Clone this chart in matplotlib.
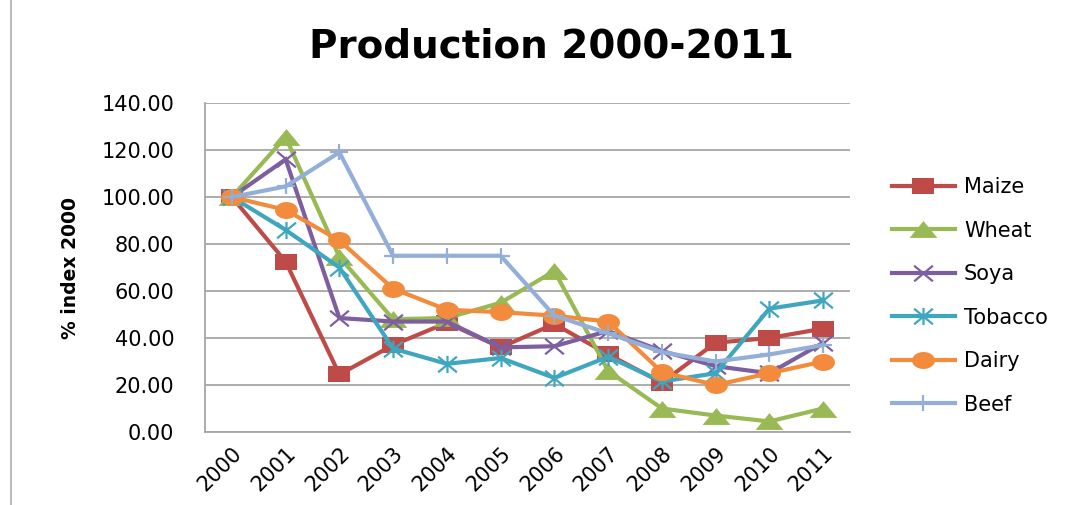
import numpy as np
import matplotlib.pyplot as plt
from matplotlib.path import Path
from matplotlib.lines import Line2D

# Dados
years = ['2000', '2001', '2002', '2003', '2004', '2005',
         '2006', '2007', '2008', '2009', '2010', '2011']
maize = [100, 72.5, 24.5, 37, 46.5, 36, 46, 33, 21, 38, 40, 44]
wheat = [100, 125.5, 74.5, 48, 48.5, 55, 68.5, 26, 10, 7, 4.5, 10]
soya = [100, 116, 48.5, 47, 47, 36, 36.5, 43, 34.5, 28, 25, 38]
tobacco = [100, 86, 70, 35.5, 29, 31.5, 23, 32, 21.5, 25, 52.5, 56]
dairy = [100, 94.5, 81.5, 61, 52, 51, 49.5, 47, 25.5, 20, 25, 30]
beef = [100, 104.5, 119, 75, 75, 75, 49.5, 42, 34, 30, 33, 37]

names = ['Maize', 'Wheat', 'Soya', 'Tobacco', 'Dairy', 'Beef']
series = [maize, wheat, soya, tobacco, dairy, beef]
colors = ['#BE4B48', '#98B954', '#7D5FA0', '#3FA6C0', '#F38B3C', '#93AFD8']

# marcadores achatados (a imagem original é esticada na horizontal)
M, L = Path.MOVETO, Path.LINETO
sq = Path([(-1.35, -1), (1.35, -1), (1.35, 1), (-1.35, 1), (-1.35, -1)])
tri = Path([(-1.65, -1), (1.65, -1), (0, 1), (-1.65, -1)])
t = np.linspace(0, 2 * np.pi, 40)
circ = Path(np.column_stack([1.35 * np.cos(t), np.sin(t)]))
xm = Path([(-1.2, -1), (1.2, 1), (-1.2, 1), (1.2, -1)], [M, L, M, L])
star = Path([(-1.2, -1), (1.2, 1), (-1.2, 1), (1.2, -1), (0, -1.1), (0, 1.1)],
            [M, L, M, L, M, L])
plus = Path([(-1.2, 0), (1.2, 0), (0, -1.1), (0, 1.1)], [M, L, M, L])

markers = [sq, tri, xm, star, circ, plus]
msizes = [16.5, 20, 13.5, 13.5, 16.5, 13]
filled = [True, True, False, False, True, False]

fig = plt.figure(figsize=(10.65, 5.05), dpi=100)
ax = fig.add_axes([205 / 1065, 1 - 432 / 505, 645 / 1065, 329 / 505])

x = np.arange(len(years))
for i in range(len(names)):
    if filled[i]:
        ax.plot(x, series[i], color=colors[i], lw=3, marker=markers[i],
                ms=msizes[i], mfc=colors[i], mec=colors[i], mew=0,
                label=names[i], solid_joinstyle='miter')
    else:
        ax.plot(x, series[i], color=colors[i], lw=3, marker=markers[i],
                ms=msizes[i], mfc='none', mec=colors[i], mew=1.6,
                label=names[i], solid_joinstyle='miter')

ax.set_xlim(-0.5, 11.5)
ax.set_ylim(0, 140)
ax.set_yticks(np.arange(0, 141, 20))
ax.set_yticklabels(['%.2f' % v for v in np.arange(0, 141, 20)], fontsize=15)
ax.set_xticks(x)
ax.set_xticklabels(years, fontsize=15, rotation=45, ha='right',
                   rotation_mode='anchor')
ax.tick_params(axis='both', length=0)
ax.tick_params(axis='y', pad=22)
ax.tick_params(axis='x', pad=8)
ax.grid(axis='y', color='#A6A6A6', lw=1.3)
ax.set_axisbelow(True)
for s in ['top', 'right']:
    ax.spines[s].set_visible(False)
for s in ['left', 'bottom']:
    ax.spines[s].set_color('#A6A6A6')
    ax.spines[s].set_linewidth(1.3)

fig.text(551 / 1065, 1 - 47 / 505, 'Production 2000-2011', fontsize=28,
         fontweight='bold', ha='center', va='center')
fig.text(70 / 1065, 1 - 268 / 505, '% index 2000', fontsize=13.5,
         fontweight='bold', rotation=90, ha='center', va='center')

fig.legend(loc='upper left', bbox_to_anchor=(892 / 1065, 1 - 177 / 505),
           frameon=False, fontsize=15, handlelength=3.0, handletextpad=0.45,
           labelspacing=1.13, borderpad=0, borderaxespad=0)

# linha cinza da borda esquerda da página
fig.add_artist(Line2D([11 / 1065, 11 / 1065], [0, 1], color='#BDBDBD', lw=1.5))

plt.savefig('out.png', dpi=100)
